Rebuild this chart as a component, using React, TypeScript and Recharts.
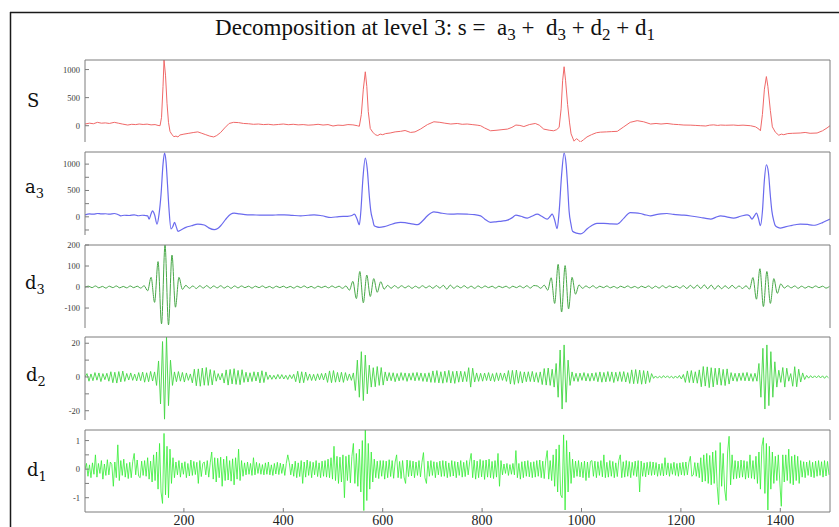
import { Line, LineChart, XAxis, YAxis } from 'recharts'

// sample index axis shared by every panel
const X_DOMAIN: [number, number] = [1, 1500]
const X_TICKS = [200, 400, 600, 800, 1000, 1200, 1400]

// s : original signal, [index, value]
const sPts = [
  [1, 30], [10, 45], [18, 35], [26, 60], [34, 45], [42, 50], [50, 40], [60, 60], [68, 45], [76, 30], [87, 12], [95, 25],
  [103, 20], [110, 30], [118, 22], [126, 28], [134, 15], [142, 20], [148, 5], [152, 0], [155, 150], [158, 700], [160, 1170],
  [163, 900], [166, 400], [169, 60], [172, -100], [176, -160], [180, -195], [184, -185], [188, -200], [192, -165], [200, -150],
  [210, -135], [220, -120], [228, -110], [236, -135], [244, -160], [252, -185], [260, -200], [266, -175], [274, -120],
  [282, -40], [291, 40], [300, 60], [310, 55], [320, 40], [330, 35], [340, 25], [350, 30], [360, 20], [370, 25], [380, 15],
  [390, 22], [400, 30], [410, 18], [420, 25], [430, 15], [440, 20], [450, 10], [460, 15], [470, 25], [480, 12], [490, 20],
  [500, -5], [510, 10], [520, 5], [530, 20], [540, 15], [549, 0], [553, -10], [557, 200], [561, 650], [565, 960], [568, 700],
  [571, 250], [575, -50], [580, -115], [585, -160], [590, -175], [595, -150], [600, -160], [606, -140], [615, -130],
  [625, -110], [636, -100], [645, -85], [656, -120], [665, -110], [676, -60], [690, 20], [703, 70], [715, 60], [725, 45],
  [737, 30], [750, 40], [760, 25], [770, 30], [780, 20], [790, 10], [797, 0], [805, -40], [817, -90], [830, -80], [840, -70],
  [851, -60], [860, -30], [868, 12], [876, 5], [884, -15], [895, 20], [907, 40], [915, 10], [924, -60], [935, -80], [944, -90],
  [950, -70], [955, -30], [959, 300], [962, 800], [965, 1050], [968, 800], [972, 380], [976, 50], [979, -145], [985, -275],
  [990, -230], [994, -260], [998, -290], [1004, -250], [1011, -200], [1020, -160], [1030, -125], [1038, -115], [1050, -110],
  [1060, -105], [1072, -100], [1085, -20], [1098, 60], [1112, 90], [1125, 70], [1139, 30], [1150, 40], [1160, 30], [1172, 40],
  [1185, 25], [1195, 20], [1206, 12], [1220, 10], [1230, 5], [1240, 0], [1250, -5], [1258, 10], [1266, 15], [1274, 5],
  [1280, 12], [1290, 8], [1306, 12], [1315, 5], [1325, 10], [1340, 0], [1350, -20], [1357, -60], [1360, -90], [1364, 200],
  [1368, 650], [1372, 875], [1375, 700], [1380, 270], [1384, -20], [1390, -115], [1397, -170], [1402, -150], [1407, -160],
  [1415, -140], [1425, -135], [1440, -130], [1450, -120], [1460, -135], [1474, -130], [1485, -90], [1494, -40], [1500, 0],
]

// a3 : approximation at level 3, [index, value]
const a3Pts = [
  [1, 38], [10, 55], [18, 50], [26, 63], [34, 55], [42, 58], [50, 50], [60, 63], [67, 45], [73, 19], [80, 30], [90, 25],
  [100, 38], [108, 20], [116, 30], [122, 25], [127, 19], [130, -44], [134, 60], [137, 113], [141, 40], [146, -137], [150, 50],
  [154, 425], [158, 1000], [161, 1207], [164, 1050], [167, 613], [170, 150], [174, -231], [178, -180], [181, -106], [185, -200],
  [188, -275], [194, -250], [204, -200], [215, -170], [228, -137], [241, -156], [250, -210], [261, -244], [268, -220],
  [274, -169], [284, -50], [294, 50], [301, 69], [312, 55], [328, 38], [345, 35], [368, 31], [385, 35], [402, 38], [418, 28],
  [435, 19], [450, 30], [462, 38], [478, 20], [496, -13], [512, 5], [529, 10], [538, 25], [543, 50], [548, -30], [553, -150],
  [556, 100], [560, 700], [565, 1113], [569, 900], [573, 400], [576, 113], [580, -60], [583, -169], [588, -190], [593, -200],
  [603, -187], [615, -150], [625, -120], [636, -106], [645, -110], [653, -125], [662, -140], [670, -150], [680, -80], [690, 20],
  [703, 94], [715, 75], [737, 50], [750, 55], [770, 50], [785, 40], [797, 19], [805, -40], [817, -106], [830, -90], [840, -80],
  [851, -63], [860, -20], [868, 31], [878, 10], [891, -25], [900, 10], [911, 50], [920, 10], [931, -44], [937, 10], [941, 50],
  [946, -60], [951, -225], [955, 100], [960, 800], [965, 1207], [969, 1000], [972, 600], [975, 113], [979, -150], [982, -275],
  [990, -310], [998, -325], [1005, -290], [1011, -231], [1020, -170], [1031, -125], [1045, -125], [1060, -135], [1072, -137],
  [1085, -30], [1098, 81], [1108, 75], [1118, 63], [1130, 35], [1139, 19], [1150, 40], [1160, 55], [1172, 63], [1185, 45],
  [1206, 31], [1220, 15], [1240, -13], [1250, -30], [1260, -44], [1270, -10], [1280, 19], [1292, 0], [1306, -25], [1320, 10],
  [1333, 38], [1338, 20], [1343, -44], [1348, 20], [1352, 69], [1356, -30], [1360, -169], [1364, 100], [1368, 700], [1372, 988],
  [1376, 850], [1380, 400], [1383, 113], [1387, -80], [1390, -169], [1395, -200], [1400, -213], [1410, -190], [1420, -169],
  [1430, -150], [1440, -137], [1455, -145], [1466, -160], [1474, -150], [1485, -110], [1494, -70], [1500, -44],
]

// d3 : detail at level 3, one value every 7 samples from index 1
const D3_STEP = 7
const d3Vals = [
  0, 4, -3, 5, -4, 3, -5, 4, -3, 5,
  -4, 3, -4, 5, -3, 4, -5, 6, -18, 46,
  -73, 121, -175, 200, -180, 152, -96, 46, -11, 8,
  -6, 5, -7, 6, -5, 7, -6, 5, -4, 6,
  -5, 4, -6, 5, -4, 5, -3, 4, -5, 4,
  -3, 5, -4, 3, -5, 4, -3, 4, -4, 3,
  -5, 4, -3, 5, -4, 3, -5, 4, -3, 4,
  -4, 5, -3, 4, -6, 5, -15, 27, -55, 74,
  -75, 57, -45, 40, -25, 25, -10, 8, -6, 7,
  -5, 6, -4, 5, -6, 4, -5, 6, -4, 5,
  -6, 7, -5, 8, -10, 9, -6, 5, -4, 6,
  -5, 4, -6, 5, -4, 5, -3, 4, -5, 4,
  -3, 4, -5, 4, -3, 5, -4, 6, -5, 7,
  5, -6, 9, -15, 44, -78, 108, -119, 102, -104,
  46, -34, 10, -6, 5, -4, 6, -5, 4, -3,
  5, -4, 3, -5, 4, -3, 5, -4, 3, -5,
  4, -3, 5, -6, 4, -5, 6, -4, 5, -3,
  4, -5, 6, -7, 8, -6, 9, -7, 10, -8,
  9, -10, 7, -8, 6, -7, 8, -6, 5, -7,
  6, -10, 45, -58, 87, -93, 74, -78, 40, -30,
  15, -5, 6, -4, 5, -6, 4, -5, 3, -4,
  5, -3, 4, -5, 3,
]

// d2 : detail at level 2, one value every 4 samples from index 1
const D2_STEP = 4
const d2Vals = [
  0, 2, -2.5, 1.8, -2.2, 2.6, -1.9, 2.4, -2.7, 2,
  -1.6, 2.2, -2.5, 3.1, -3.4, 2.8, -3.6, 3.2, -2.9, 3.5,
  -2.6, 2.1, -1.8, 2.4, -2, 1.7, -2.3, 2.6, -2.2, 2.9,
  -3.1, 2.5, -2.8, 3.3, -2.4, 3, -5, 9.5, -16, 21,
  -25, 24, -17, 10, -5, 3, -2.8, 3.2, -2.5, 2.7,
  -3, 2.4, -2, 1.8, -3.5, 4.6, -5.2, 4.8, -5.5, 5.3,
  -4.9, 5.6, -5, 4.4, -4.7, 3.8, -2.5, 2, -1.8, 2.2,
  -3.6, 4.2, -4.8, 4.5, -4.1, 4.9, -4.4, 3.9, -4.6, 4.3,
  -3.2, 2.8, -3, 2.5, -2.7, 3.1, -2.4, 2.9, -3.5, 3.7,
  -3.3, 3, -1.5, 1.2, -1.4, 1, -1.3, 1.5, -1.1, 1.4,
  -1.2, 1, -1.5, 1.3, -1, 1.6, -2.8, 3.4, -3.6, 3.1,
  -3.4, 2.9, -2, 1.8, -2.1, 1.6, -2.2, 1.9, -1.7, 2.1,
  -1.8, 2.3, -3.2, 3.6, -3.4, 3.8, -3.1, 2.7, -3, 2.8,
  -3.2, 2.6, -2.1, 1.8, -2, 2.4, -8, 10, -12, 15,
  -14, 13, -10, 7, -6, 5.5, -5.8, 6.2, -5, 5.6,
  -4.8, 3, -2.4, 2.6, -2.2, 2.5, -2.8, 2.1, -2.3, 2.6,
  -2, 2.4, -2.6, 2.2, -1.9, 2.5, -2.3, 2.7, -2.1, 2.4,
  -2.6, 2.2, -2.8, 2.5, -3.2, 3.6, -3.3, 3.8, -3.5, 3.1,
  -3.7, 3.4, -3.2, 3.9, -3.6, 3.3, -3.8, 3.5, -3.1, 3.4,
  -2.9, 3.2, -2.7, 5.5, -6, 5.2, -3, 2.4, -2.6, 2.2,
  -2.5, 2.3, -2.1, 2.6, -2.4, 2, -2.7, 2.5, -2.2, 2.4,
  -2, 2.3, -2.6, 3.8, -4.2, 3.9, -4.4, 4.1, -3.7, 3.2,
  -3.6, 3, -2.8, 3.1, -2.7, 3.3, -2.9, 2.6, -3.2, 3,
  -4.5, 5, -4.8, 5.3, -5, 4.6, -6, 8, -12, 16,
  -19, 19, -15, 10, -5, 3, -2.5, 2.2, -2.7, 2.3,
  -2, 2.6, -2.4, 2.1, -2.5, 2.3, -2.2, 2.6, -2.8, 3,
  -3.1, 2.7, -2.9, 3.2, -2.6, 3, -3.3, 2.8, -2.5, 3.1,
  -2.7, 3.2, -3, 2.6, -3.8, 4.2, -4, 4.4, -3.9, 4.1,
  -4.3, 3.8, -4, 3.6, -3.2, 2, -0.8, 0.6, -0.7, 0.5,
  -0.6, 0.8, -0.5, 0.7, -0.6, 0.5, -0.8, 0.6, -0.7, 0.9,
  -1.2, 1.5, -3.2, 3.6, -3.3, 3.8, -3.5, 3.1, -3.7, 4.2,
  -5.8, 6.2, -5.4, 6, -6.3, 5.5, -5.9, 5.2, -4.6, 5.3,
  -4.9, 4.5, -5.1, 4.8, -4.2, 2.6, -2.4, 2.2, -2.6, 2.3,
  -2.1, 2.5, -2.3, 2.7, -2.4, 2, -2.6, 2.2, -2.5, 8,
  -12, 17, -19, 19, -17, 15, -12, 9, -6, 4,
  -3.2, 5.6, -6, 5.2, -2.5, 2, -5.5, 6.1, -5.8, 4.6,
  -3, 2.4, -1.5, 0.9, -0.7, 0.8, -0.6, 0.7, -0.5, 0.8,
  -0.6, 0.7, -0.8, 0.6, -0.5,
]

// d1 : detail at level 1, one value every 3 samples from index 1
const D1_STEP = 3
const d1Vals = [
  0, .2, -.25, .15, -.3, .22, -.18, .5, -.28, .2, -.15, .3, -.35, .18, -.22, .33, -.2, .25, .16, -.6,
  .25, -.3, .85, -.4, .3, -.22, .35, -.28, .2, -.33, .24, -.3, .26, .55, -.2, .32, -.25, -.3, .28, -.22,
  .3, -.25, .4, -.35, .28, -.45, .5, -.4, .6, -.7, .9, -.8, -1.2, 1.25, -.9, .8, -1.0, .7, -.5, .4,
  -.3, .25, -.2, .3, -.28, .22, -.18, .26, -.3, .2, -.24, .32, -.22, .27, -.19, .24, -.5, .3, -.26, .2,
  .25, -.2, .3, -.28, .22, .6, -.35, .4, -.45, .38, -.3, .42, -.6, .35, -.4, .45, -.38, .3, -.42, .36,
  -.55, .4, -.35, .7, -.4, .3, -.25, .22, -.2, .25, -.18, .2, -.22, .4, -.2, .24, -.15, .2, -.18, .16,
  -.2, .22, -.18, .25, -.2, .15, -.22, .2, -.17, .24, -.19, .21, -.15, .18, -.22, .2, .5, .23, -.2, .18,
  -.25, .28, -.3, .22, -.26, .3, -.5, .25, -.28, .32, -.22, .27, -.3, .24, -.2, .3, -.26, .22, -.3, .28,
  -.25, .3, -.28, .35, -.3, .4, -.35, .8, -.4, .45, -.5, .42, -.45, .5, -1.0, .45, -.4, .5, -.48, .44,
  .9, -.5, .55, -.6, .7, -.8, 1.0, -1.45, 1.45, -1.1, .9, -.7, .6, -.45, .35, -.3, .28, -.33, .3, -.25,
  .3, -.35, .28, -.3, .33, -.26, .3, -.32, .25, .5, -.3, .27, -.33, .3, -.28, -.5, .32, -.26, .3, -.24,
  .28, -.3, .25, -.22, .3, -.27, .24, .58, -.3, -.5, .28, -.25, .3, -.22, .26, -.3, .24, -.2, .28, -.26,
  .3, -.25, .28, -.3, .22, -.26, .3, -.24, .27, -.3, .25, -.22, .3, -.28, .24, -.26, .3, -.2, .26, .55,
  -.3, .32, -.35, .28, -.3, .34, -.27, .3, -.36, .32, -.28, .35, -.3, .27, -.33, .3, -.28, .55, -.6, .3,
  -.2, .18, -.15, .2, -.22, .16, -.18, .2, -.2, .65, -.3, .2, -.35, .26, -.3, .28, -.25, .3, -.27, .24,
  -.3, .26, -.28, .3, -.25, .32, -.3, .28, -.33, .3, .65, -.35, .3, -.4, .5, -.6, .7, -.8, .85, -.9,
  -1.0, 1.2, -1.43, 1.0, -.8, .6, -.5, .35, -.3, .28, -.25, .3, -.27, .24, -.3, .28, -.4, .25, -.3, .27,
  .3, -.25, .28, -.3, .26, -.22, .3, -.27, .5, -.3, .24, -.28, .3, -.25, .27, -.3, .22, -.26, .3, .5,
  -.3, .26, -.28, .3, -.25, .27, -.3, .24, -.22, .28, -.26, .3, -.8, .28, -.25, .22, -.27, .24, -.2, .26,
  -.22, .25, -.2, .23, -.25, .18, -.22, .2, -.24, .4, -.2, .22, -.25, .2, -.18, .24, -.22, .2, -.25, .22,
  -.2, .24, -.22, .25, -.2, .22, .45, -.25, -.2, .23, -.25, .22, -.3, .4, -.45, .5, -.42, .55, -.5, .48,
  -.55, .6, -.5, .65, -.6, -1.24, .93, -.6, .55, -.7, -1.1, .6, 1.15, -.55, .5, -.35, .3, -.33, .28, -.3,
  .32, -.28, .3, -.35, .27, -.3, .5, -.32, .3, -.35, .45, -.5, .6, -.7, .8, 1.1, -.85, .9, -1.43, .8,
  -.7, .6, -.5, .45, -.4, .5, -.45, -1.3, .5, -.45, .5, -.4, .7, -.5, .45, -.55, .5, -.4, .45, -.5,
  .3, -.28, .26, -.3, .25, -.22, .3, -.27, .24, -.3, .28, -.25, .3, -.22, .26, -.28, .3, -.24, .27, -.2,
]

// y scales and ticks per panel (labels only on the listed values)
const sTicks = [0, 500, 1000]
const a3Ticks = [-250, 0, 250, 500, 750, 1000]
const a3Labels = [0, 500, 1000]
const d3Ticks = [-100, 0, 100, 200]
const d2Ticks = [-20, -10, 0, 10, 20]
const d2Labels = [-20, 0, 20]
const d1Ticks = [-1, -0.5, 0, 0.5, 1]
const d1Labels = [-1, 0, 1]

const FRAME = '#7d7d7d'
const W = 839

const fromPairs = (pts: number[][]) => pts.map(([x, y]) => ({ x, y }))
const fromSteps = (vals: number[], step: number) => vals.map((y, i) => ({ x: 1 + i * step, y }))

type PanelProps = {
  top: number
  height: number
  data: { x: number; y: number }[]
  color: string
  domain: [number, number]
  ticks: number[]
  labels?: number[]
  curve: 'linear' | 'monotone'
  width?: number
  showX?: boolean
}

function Panel({ top, height, data, color, domain, ticks, labels, curve, width = 1, showX = false }: PanelProps) {
  const bottomH = showX ? 24 : 0
  const fmt = (v: number) => (!labels || labels.includes(v) ? String(v) : '')
  return (
    <div style={{ position: 'absolute', left: 0, top: top - 7 }}>
      <LineChart width={W} height={height + 12 + bottomH} data={data} margin={{ top: 6, right: 8, bottom: 6, left: 45 }}>
        <XAxis
          xAxisId="t"
          orientation="top"
          type="number"
          dataKey="x"
          domain={X_DOMAIN}
          ticks={X_TICKS}
          height={1}
          tick={false}
          tickSize={-4}
          stroke={FRAME}
          allowDataOverflow
        />
        <XAxis
          type="number"
          dataKey="x"
          domain={X_DOMAIN}
          ticks={X_TICKS}
          height={bottomH}
          tick={showX ? { fill: '#222', stroke: 'none', fontSize: 14, fontFamily: 'Liberation Serif, serif' } : false}
          tickSize={-4}
          tickMargin={7}
          stroke={FRAME}
          allowDataOverflow
        />
        <YAxis
          type="number"
          domain={domain}
          ticks={ticks}
          width={40}
          tickSize={-4}
          tickMargin={9}
          tickFormatter={fmt}
          tick={{ fill: '#3a3a3a', stroke: 'none', fontSize: 8.5, fontFamily: 'Liberation Serif, serif' }}
          stroke={FRAME}
          allowDataOverflow
        />
        <YAxis
          yAxisId="r"
          orientation="right"
          type="number"
          domain={domain}
          ticks={ticks}
          width={1}
          tickSize={-4}
          tick={false}
          stroke={FRAME}
          allowDataOverflow
        />
        {/* invisible copy, only to keep the top / right frame axes bound */}
        <Line xAxisId="t" yAxisId="r" dataKey="y" stroke="none" dot={false} isAnimationActive={false} />
        <Line
          type={curve}
          dataKey="y"
          stroke={color}
          strokeWidth={width}
          dot={false}
          isAnimationActive={false}
        />
      </LineChart>
    </div>
  )
}

const serif = 'DejaVu Serif, serif'

function RowLabel({ x, y, main, sub }: { x: number; y: number; main: string; sub?: string }) {
  return (
    <text x={x} y={y} fontFamily={serif} fontSize={18} fill="#111">
      {main}
      {sub && (
        <tspan dy={5} fontSize={13}>
          {sub}
        </tspan>
      )}
    </text>
  )
}

export default function App() {
  return (
    <div style={{ position: 'absolute', left: 0, top: 0, width: W, height: 527, background: '#fff', overflow: 'hidden' }}>
      <Panel top={60} height={83} data={fromPairs(sPts)} color="#f06868" domain={[-290, 1170]} ticks={sTicks} curve="linear" />
      <Panel top={152} height={84} data={fromPairs(a3Pts)} color="#6a6aee" domain={[-345, 1230]} ticks={a3Ticks} labels={a3Labels} curve="monotone" width={1.2} />
      <Panel top={245} height={84} data={fromSteps(d3Vals, D3_STEP)} color="#48a848" domain={[-195, 200]} ticks={d3Ticks} curve="monotone" />
      <Panel top={337} height={84} data={fromSteps(d2Vals, D2_STEP)} color="#44d644" domain={[-25.5, 23.7]} ticks={d2Ticks} labels={d2Labels} curve="linear" width={0.9} />
      <Panel top={430} height={83} data={fromSteps(d1Vals, D1_STEP)} color="#33ee33" domain={[-1.5, 1.37]} ticks={d1Ticks} labels={d1Labels} curve="linear" width={0.8} showX />
      <svg width={W} height={527} style={{ position: 'absolute', left: 0, top: 0, pointerEvents: 'none' }}>
        <line x1={10.5} y1={12} x2={10.5} y2={527} stroke="#1a1a1a" strokeWidth={1.5} />
        <line x1={10} y1={12.5} x2={W} y2={12.5} stroke="#1a1a1a" strokeWidth={1.5} />
        <text x={435} y={35} textAnchor="middle" fontFamily="Liberation Serif, serif" fontSize={23} fill="#111" style={{ whiteSpace: 'pre' }}>
          {'Decomposition at level 3: s =  a'}
          <tspan dy={5} fontSize={17}>3</tspan>
          <tspan dy={-5}>{' +  d'}</tspan>
          <tspan dy={5} fontSize={17}>3</tspan>
          <tspan dy={-5}>{' + d'}</tspan>
          <tspan dy={5} fontSize={17}>2</tspan>
          <tspan dy={-5}>{' + d'}</tspan>
          <tspan dy={5} fontSize={17}>1</tspan>
        </text>
        <RowLabel x={27} y={107} main="S" />
        <RowLabel x={25} y={193} main="a" sub="3" />
        <RowLabel x={25} y={289} main="d" sub="3" />
        <RowLabel x={26} y={381} main="d" sub="2" />
        <RowLabel x={27} y={476} main="d" sub="1" />
      </svg>
    </div>
  )
}
